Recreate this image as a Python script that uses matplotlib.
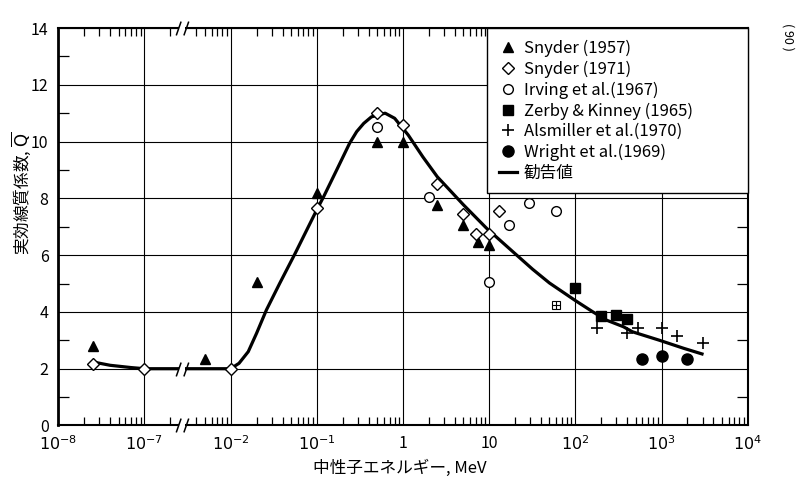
import numpy as np
import matplotlib
matplotlib.use('Agg')
import matplotlib.pyplot as plt
from matplotlib.path import Path
from matplotlib import transforms

plt.rcParams['font.family'] = ['Noto Sans CJK JP', 'DejaVu Sans']
plt.rcParams['mathtext.fontset'] = 'dejavusans'

# --- data (neutron energy in MeV, quality factor Q) ---
snyder57_e = [2.5e-8, 5e-3, 0.02, 0.1, 0.5, 1.0, 2.5, 5.0, 7.5, 10.0]
snyder57_q = [2.8, 2.35, 5.05, 8.2, 10.0, 10.0, 7.75, 7.05, 6.45, 6.35]

snyder71_e = [2.5e-8, 1e-7, 1e-2, 0.1, 0.5, 1.0, 2.5, 5.0, 7.0, 10.0, 13.0]
snyder71_q = [2.15, 2.0, 2.0, 7.65, 11.0, 10.6, 8.5, 7.45, 6.75, 6.75, 7.55]

irving_e = [0.5, 2.0, 10.0, 17.0, 29.0, 60.0]
irving_q = [10.5, 8.05, 5.05, 7.05, 7.85, 7.55]

zerby_e = [100, 200, 300, 400]
zerby_q = [4.85, 3.87, 3.9, 3.75]

alsmiller_e = [180, 400, 530, 1000, 1500, 3000]
alsmiller_q = [3.45, 3.25, 3.42, 3.42, 3.15, 2.92]

wright_e = [600, 1000, 2000]
wright_q = [2.35, 2.45, 2.35]

other_e = [60]
other_q = [4.24]

rec_e = [2.5e-8, 4e-8, 7e-8, 1e-7, 1e-2, 0.0125, 0.016, 0.02, 0.026, 0.037,
         0.056, 0.1, 0.12, 0.17, 0.24, 0.29, 0.35, 0.43, 0.62, 0.8, 1.15, 1.7,
         2.5, 5.0, 9.3, 12, 20, 32, 50, 100, 160, 230, 360, 460, 950, 1800, 2950]
rec_q = [2.24, 2.12, 2.04, 2.0, 2.0, 2.19, 2.6, 3.25, 4.07, 5.0,
         6.06, 7.6, 8.06, 9.0, 9.94, 10.35, 10.64, 10.87, 11.0, 10.82, 10.23, 9.46,
         8.76, 7.78, 6.95, 6.65, 6.05, 5.5, 5.02, 4.4, 4.0, 3.71, 3.48, 3.3, 3.0,
         2.72, 2.52]

major_e = [1e-8, 1e-7, 1e-2, 1e-1, 1, 10, 1e2, 1e3, 1e4]
major_lbl = ['$10^{-8}$', '$10^{-7}$', '$10^{-2}$', '$10^{-1}$', '1', '10',
             '$10^{2}$', '$10^{3}$', '$10^{4}$']

BRK = 1.43  # position of the axis break (in decades from 1e-8)


# broken log axis: 1e-8..1e-7, break, 1e-2..1e4
def fwd(e):
    l = np.log10(np.clip(np.asarray(e, float), 1e-30, None))
    return np.where(l <= BRK - 8, l + 8, np.where(l >= BRK - 4, l + 4, BRK))


def inv(u):
    u = np.asarray(u, float)
    return np.where(u <= BRK, 10 ** (u - 8), 10 ** (u - 4))


fig = plt.figure(figsize=(8.02, 4.87), dpi=100)
ax = fig.add_axes([0.0727, 0.1263, 0.8596, 0.8162])
ax.set_xscale('function', functions=(fwd, inv))
ax.set_xlim(1e-8, 1e4)
ax.set_ylim(0, 14)

h_rec, = ax.plot(rec_e, rec_q, color='k', lw=2.3, zorder=3,
                 solid_joinstyle='round', label='勧告値')
h57, = ax.plot(snyder57_e, snyder57_q, '^', color='k', ms=7.5, ls='none',
               zorder=5, label='Snyder (1957)')
h71, = ax.plot(snyder71_e, snyder71_q, 'D', mfc='white', mec='k', mew=1.0,
               ms=6.5, ls='none', zorder=6, label='Snyder (1971)')
hirv, = ax.plot(irving_e, irving_q, 'o', mfc='white', mec='k', mew=1.0, ms=7,
                ls='none', zorder=5, label='Irving et al.(1967)')
hzer, = ax.plot(zerby_e, zerby_q, 's', color='k', ms=6.5, ls='none', zorder=5,
                label='Zerby & Kinney (1965)')
hals, = ax.plot(alsmiller_e, alsmiller_q, '+', color='k', ms=8, mew=1.2,
                ls='none', zorder=5, label='Alsmiller et al.(1970)')
hwri, = ax.plot(wright_e, wright_q, 'o', color='k', ms=8, ls='none', zorder=5,
                label='Wright et al.(1969)')
ax.plot(other_e, other_q, 's', mfc='white', mec='k', mew=0.8, ms=5.5,
        ls='none', zorder=5)
ax.plot(other_e, other_q, '+', color='k', mew=0.8, ms=5.5, ls='none', zorder=6)

# ticks
ax.set_xticks(major_e, major_lbl)
minor_e = [m * 10.0 ** d for d in range(-8, 4) for m in range(2, 10)]
minor_e = [v for v in minor_e if abs(float(fwd(v)) - BRK) > 0.1]
ax.set_xticks(minor_e, minor=True)
ax.set_xticklabels([], minor=True)
ax.set_yticks(range(0, 15, 2))
ax.set_yticks(range(1, 14, 2), minor=True)
ax.tick_params(which='major', length=0, labelsize=11.5, pad=7)
ax.tick_params(which='minor', direction='in', length=6, width=0.9,
               top=True, right=True)
ax.tick_params(axis='y', which='minor', length=8)

ax.grid(True, which='major', color='k', lw=0.8)
for s in ax.spines.values():
    s.set_linewidth(1.5)
ax.spines['left'].set_linewidth(2.0)

ax.set_xlabel('中性子エネルギー, MeV', fontsize=12)
ax.set_ylabel('実効線質係数, $\\overline{\\mathrm{Q}}$', fontsize=12)
ax.xaxis.set_label_coords(0.496, -0.085)
ax.yaxis.set_label_coords(-0.037, 0.585)

# axis break marks
slash = Path([(-0.9, -1), (-0.2, 1), (0.2, -1), (0.9, 1)],
             [Path.MOVETO, Path.LINETO, Path.MOVETO, Path.LINETO])
gap = Path([(-1, 0), (1, 0)], [Path.MOVETO, Path.LINETO])
blend = transforms.blended_transform_factory(ax.transAxes, ax.transData)
xb = BRK / 8
for yb, tr in [(0, ax.transAxes), (1, ax.transAxes), (2.0, blend)]:
    ax.plot([xb], [yb], transform=tr, marker=gap, ms=4.5, mew=4, color='white',
            clip_on=False, zorder=8)
    ax.plot([xb], [yb], transform=tr, marker=slash, ms=10, mew=1.1, color='k',
            clip_on=False, zorder=9)

handles = [h57, h71, hirv, hzer, hals, hwri, h_rec]
leg = ax.legend(handles=handles, loc='upper left',
                bbox_to_anchor=(0.622, 0, 0.378, 1),
                mode='expand', fontsize=12, frameon=True, fancybox=False,
                edgecolor='k', framealpha=1, borderaxespad=0, borderpad=0.7,
                labelspacing=0.22, handlelength=1.1, handletextpad=0.4)
leg.get_frame().set_linewidth(1.0)
leg.set_zorder(10)

fig.text(0.982, 0.925, '( 90 )', rotation=-90, fontsize=9, ha='center',
         va='center')

fig.savefig('out.png', dpi=100)
